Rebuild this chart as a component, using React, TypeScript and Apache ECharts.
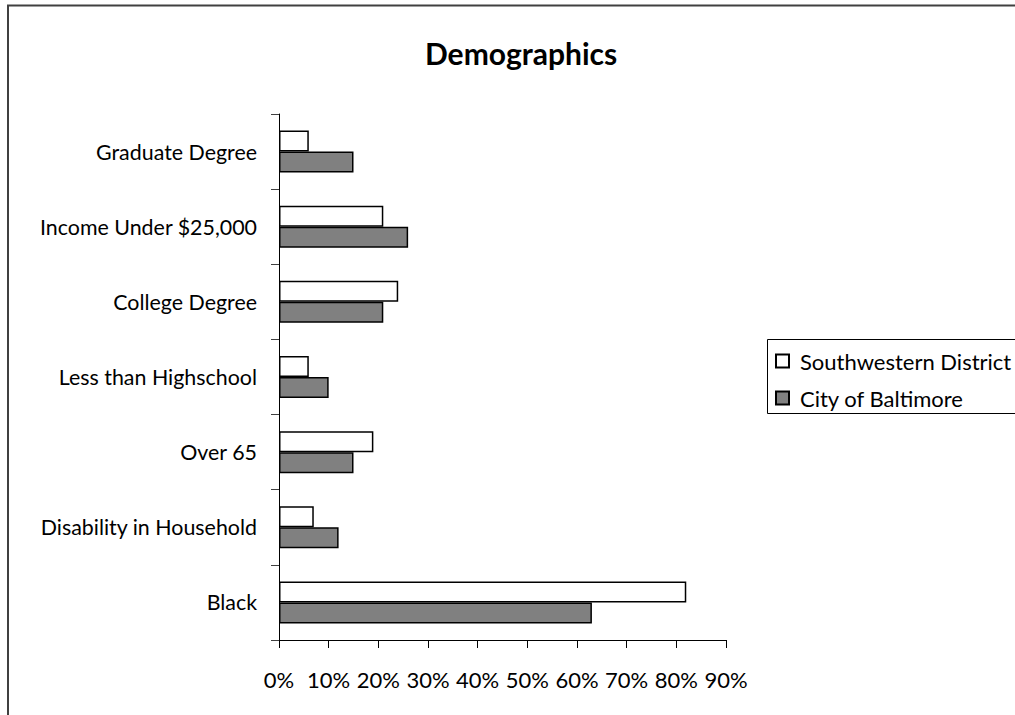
import React, { useEffect, useRef } from "react";
import * as echarts from "echarts";

const categories = [
  "Graduate Degree",
  "Income Under $25,000",
  "College Degree",
  "Less than Highschool",
  "Over 65",
  "Disability in Household",
  "Black",
];
const southwestern = [6, 21, 24, 6, 19, 7, 82];
const baltimore = [15, 26, 21, 10, 15, 12, 63];
const seriesNames = ["Southwestern District", "City of Baltimore"];
const xTicks = { min: 0, max: 90, interval: 10 };

const FONT = "Lato";

export default function App() {
  const ref = useRef<HTMLDivElement>(null);
  useEffect(() => {
    if (!ref.current) return;
    const chart = echarts.init(ref.current, undefined, { renderer: "svg" });
    chart.setOption({
      animation: false,
      backgroundColor: "#fff",
      title: {
        text: "Demographics",
        left: 425,
        top: 38,
        padding: 0,
        textStyle: { fontFamily: FONT, fontSize: 30, fontWeight: "bold", color: "#000" },
      },
      graphic: [
        {
          type: "rect",
          shape: { x: 8, y: 5.5, width: 1200, height: 900 },
          style: { fill: "none", stroke: "#404040", lineWidth: 2 },
          silent: true,
        },
        {
          type: "rect",
          shape: { x: 767.5, y: 339.5, width: 400, height: 74 },
          style: { fill: "none", stroke: "#000", lineWidth: 1 },
          silent: true,
        },
      ],
      legend: {
        orient: "vertical",
        left: 775,
        top: 348,
        padding: 0,
        itemWidth: 13,
        itemHeight: 13,
        itemGap: 11,
        icon: "rect",
        textStyle: {
          fontFamily: FONT,
          fontSize: 22,
          color: "#000",
          lineHeight: 26,
          padding: [0, 0, 0, 6],
        },
        data: seriesNames,
      },
      grid: { left: 279, right: 289, top: 114, bottom: 75, containLabel: false },
      xAxis: {
        type: "value",
        min: xTicks.min,
        max: xTicks.max,
        interval: xTicks.interval,
        axisLine: { show: true, lineStyle: { color: "#000", width: 1 } },
        axisTick: { show: true, length: 8, lineStyle: { color: "#000" } },
        splitLine: { show: false },
        axisLabel: {
          formatter: "{value}%",
          fontFamily: FONT,
          fontSize: 22,
          color: "#000",
          margin: 28,
        },
      },
      yAxis: {
        type: "category",
        inverse: true,
        data: categories,
        axisLine: { show: true, lineStyle: { color: "#000", width: 1 } },
        axisTick: { show: true, length: 8, lineStyle: { color: "#404040" } },
        axisLabel: { fontFamily: FONT, fontSize: 21.4, color: "#000", margin: 22, padding: [2, 0, 0, 0] },
      },
      series: [
        {
          name: seriesNames[0],
          type: "bar",
          data: southwestern,
          barWidth: 21,
          barGap: "0%",
          itemStyle: { color: "#ffffff", borderColor: "#000", borderWidth: 1.5 },
        },
        {
          name: seriesNames[1],
          type: "bar",
          data: baltimore,
          barWidth: 21,
          barGap: "0%",
          itemStyle: { color: "#808080", borderColor: "#000", borderWidth: 1.5 },
        },
      ],
    });
    return () => chart.dispose();
  }, []);
  return (
    <div
      ref={ref}
      style={{ position: "absolute", left: 0, top: 0, width: 1015, height: 715 }}
    />
  );
}
